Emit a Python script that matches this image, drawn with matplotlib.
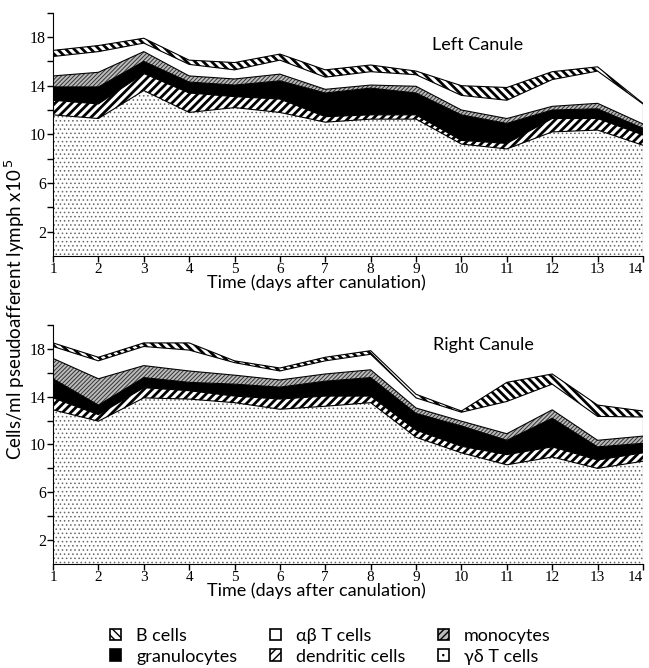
import matplotlib
matplotlib.use("Agg")
import matplotlib.pyplot as plt
from matplotlib.patches import Patch, Rectangle, Circle
from matplotlib.legend_handler import HandlerBase
import numpy as np

# Days after canulation
days = np.arange(1, 15)

# Left canule, cells/ml x10^5 per population (stacked from bottom)
left_gd = [11.6, 11.3, 13.6, 11.8, 12.2, 11.8, 11.0, 11.25, 11.25, 9.2, 8.8, 10.2, 10.35, 9.1]
left_dc = [1.2, 1.2, 1.4, 1.6, 0.9, 1.1, 0.45, 0.35, 0.35, 0.3, 0.45, 1.1, 0.95, 0.85]
left_gran = [1.1, 1.4, 1.0, 0.9, 0.95, 1.5, 1.95, 2.2, 1.8, 2.1, 1.65, 0.7, 0.8, 0.55]
left_mono = [0.9, 1.2, 0.8, 0.5, 0.5, 0.55, 0.3, 0.25, 0.55, 0.4, 0.4, 0.3, 0.45, 0.35]
left_ab = [1.6, 1.7, 0.7, 0.95, 0.75, 1.15, 1.0, 1.1, 0.95, 1.2, 1.5, 2.2, 2.65, 1.65]
left_b = [0.5, 0.5, 0.4, 0.35, 0.6, 0.5, 0.6, 0.55, 0.3, 0.8, 1.05, 0.65, 0.35, 0.05]

# Right canule
right_gd = [12.9, 11.95, 13.9, 13.8, 13.5, 12.95, 13.2, 13.5, 10.6, 9.3, 8.3, 8.95, 8.0, 8.6]
right_dc = [1.0, 0.55, 0.85, 0.7, 0.55, 0.85, 0.85, 0.55, 0.6, 0.55, 0.85, 0.85, 0.7, 0.7]
right_gran = [1.6, 0.8, 0.85, 0.7, 1.0, 1.0, 1.25, 1.55, 1.4, 1.7, 1.2, 2.4, 1.1, 0.8]
right_mono = [1.7, 2.2, 1.0, 0.95, 0.75, 0.6, 0.6, 0.65, 0.45, 0.4, 0.55, 0.7, 0.55, 0.6]
right_ab = [1.0, 1.5, 1.6, 1.75, 1.05, 0.75, 1.1, 1.3, 0.85, 0.75, 2.7, 2.15, 2.0, 1.6]
right_b = [0.3, 0.3, 0.3, 0.6, 0.15, 0.25, 0.3, 0.3, 0.3, 0.1, 1.6, 0.85, 0.95, 0.5]

labels = ["\u03b3\u03b4 T cells", "dendritic cells", "granulocytes", "monocytes",
          "\u03b1\u03b2 T cells", "B cells"]

# face, hatch colour, hatch, hatch linewidth
styles = [
    ("white", "#666666", "....", 0.6),
    ("white", "black", "////", 2.0),
    ("black", "black", "", 1.0),
    ("#bbbbbb", "#333333", "////////", 0.7),
    ("white", "white", "", 1.0),
    ("white", "black", "\\\\\\\\", 2.0),
]

serif = "Liberation Serif"
sans = "Lato"


class DotBox:
    pass


# square with a dot in the middle, as in the original key
class DotBoxHandler(HandlerBase):
    def create_artists(self, legend, orig_handle, xdescent, ydescent, width, height, fontsize, trans):
        r = Rectangle((-xdescent, -ydescent), width, height, facecolor="white",
                      edgecolor="black", lw=1.2, transform=trans)
        c = Circle((-xdescent + width / 2, -ydescent + height / 2), 0.9,
                   facecolor="black", edgecolor="none", transform=trans)
        return [r, c]


def stacked(ax, layers, title, tx, ty):
    base = np.zeros(len(days))
    for vals, (fc, hc, hatch, hlw) in zip(layers, styles):
        top = base + np.array(vals)
        with plt.rc_context({"hatch.linewidth": hlw}):
            coll = ax.fill_between(days, base, top, facecolor=fc, edgecolor=hc,
                                   hatch=hatch, linewidth=0)
            if hasattr(coll, "set_hatch_linewidth"):
                coll.set_hatch_linewidth(hlw)
        ax.plot(days, top, color="black", lw=0.8)
        base = top
    ax.plot([days[-1], days[-1]], [0, base[-1]], color="black", lw=0.8)
    ax.set_xlim(1, 14)
    ax.set_ylim(0, 20)
    ax.spines["top"].set_visible(False)
    ax.spines["right"].set_visible(False)
    ax.set_xticks(days)
    ax.set_xticklabels([str(d) for d in days], fontfamily=serif, fontsize=11)
    ax.get_xticklabels()[-1].set_horizontalalignment("right")
    ax.set_yticks(np.arange(2, 21, 2))
    ax.set_yticklabels(["2", "", "6", "", "10", "", "14", "", "18", ""],
                       fontfamily=serif, fontsize=11.5)
    ax.tick_params(direction="out", length=4, width=1, pad=1)
    ax.set_xlabel("Time (days after canulation)", fontfamily=sans, fontsize=13, labelpad=-1)
    ax.xaxis.label.set_x(0.447)
    ax.text(tx, ty, title, transform=ax.transAxes, ha="center", va="center",
            fontfamily=sans, fontsize=13)


fig = plt.figure(figsize=(6.49, 6.68), dpi=100)
ax1 = fig.add_axes([0.0817, 0.6168, 0.909, 0.3642])
ax2 = fig.add_axes([0.0817, 0.1557, 0.909, 0.3578])

stacked(ax1, [left_gd, left_dc, left_gran, left_mono, left_ab, left_b], "Left Canule", 0.72, 0.867)
stacked(ax2, [right_gd, right_dc, right_gran, right_mono, right_ab, right_b], "Right Canule", 0.729, 0.916)

fig.text(0.022, 0.537, "Cells/ml pseudoafferent lymph x10$^{\\,5}$", rotation=90,
         ha="center", va="center", fontfamily=sans, fontsize=13.5)

# legend, column-major order
order = [5, 2, 4, 1, 3, 0]
handles = []
for i in order:
    fc, hc, hatch, hlw = styles[i]
    if i == 4:
        h = Patch(facecolor="white", edgecolor="black", lw=1.2)
    elif i == 0:
        h = DotBox()
    else:
        h = Patch(facecolor=fc, edgecolor="black", hatch=hatch.replace("////////", "/////"), lw=1.2)
    handles.append(h)
fig.legend(handles=handles, labels=[labels[i] for i in order], ncol=3,
           loc="upper left", bbox_to_anchor=(110 / 649, 1 - 628 / 668),
           borderaxespad=0, borderpad=0, frameon=False,
           prop={"family": sans, "size": 13}, handlelength=0.6, handleheight=0.6,
           columnspacing=1.8, labelspacing=0.25, handletextpad=0.85,
           handler_map={DotBox: DotBoxHandler()})

fig.savefig("out.png", dpi=100)
